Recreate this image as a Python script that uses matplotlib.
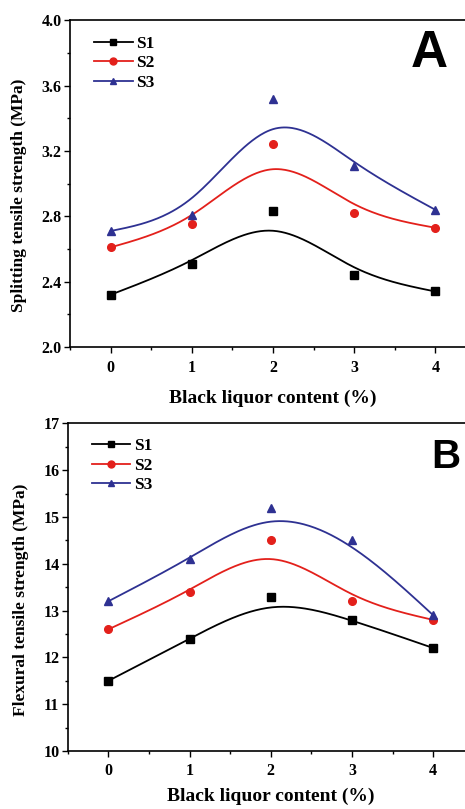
import numpy as np
import matplotlib.pyplot as plt
from matplotlib.ticker import MultipleLocator

# black liquor dosage (%)
content = [0, 1, 2, 3, 4]

# splitting tensile strength (MPa)
split_s1 = [2.32, 2.51, 2.83, 2.44, 2.34]
split_s2 = [2.61, 2.75, 3.24, 2.82, 2.73]
split_s3 = [2.71, 2.81, 3.52, 3.11, 2.84]

# flexural tensile strength (MPa)
flex_s1 = [11.5, 12.4, 13.3, 12.8, 12.2]
flex_s2 = [12.6, 13.4, 14.5, 13.2, 12.8]
flex_s3 = [13.2, 14.1, 15.2, 14.5, 12.9]

labels = ["S1", "S2", "S3"]
colors = ["black", "#e3201b", "#2e3192"]
markers = ["s", "o", "^"]

plt.rcParams["font.family"] = ["Liberation Serif", "DejaVu Serif"]
plt.rcParams["font.weight"] = "bold"


def bspline(x, y, n=60):
    """Uniform cubic B-spline using the data as control points.
    End points are mirrored so the curve starts and ends on the data."""
    p = np.column_stack([x, y]).astype(float)
    q = np.vstack([2 * p[0] - p[1], p, 2 * p[-1] - p[-2]])
    t = np.linspace(0, 1, n)[:, None]
    b0 = (1 - t) ** 3 / 6
    b1 = (3 * t ** 3 - 6 * t ** 2 + 4) / 6
    b2 = (-3 * t ** 3 + 3 * t ** 2 + 3 * t + 1) / 6
    b3 = t ** 3 / 6
    segs = [b0 * q[i] + b1 * q[i + 1] + b2 * q[i + 2] + b3 * q[i + 3]
            for i in range(len(q) - 3)]
    pts = np.vstack(segs)
    return pts[:, 0], pts[:, 1]


def draw_panel(ax, series, ylim, ymajor, yminor, ylabel, letter, letter_pos,
               letter_size, ylab_pos, leg_anchor, xlab_pad):
    for y, lab, c, m in zip(series, labels, colors, markers):
        cx, cy = bspline(content, y)
        ax.plot(cx, cy, color=c, lw=1.3)
        ax.plot(content, y, ls="none", marker=m, color=c, ms=5.5)
        ax.plot([], [], color=c, lw=1.3, marker=m, ms=5, label=lab)

    ax.set_xlim(-0.5, 4.5)
    ax.set_ylim(*ylim)
    ax.xaxis.set_major_locator(MultipleLocator(1))
    ax.xaxis.set_minor_locator(MultipleLocator(0.5))
    ax.yaxis.set_major_locator(MultipleLocator(ymajor))
    ax.yaxis.set_minor_locator(MultipleLocator(yminor))
    ax.tick_params(which="major", direction="out", length=4, width=1, labelsize=11.5)
    ax.tick_params(axis="x", which="major", pad=5)
    ax.tick_params(axis="y", which="major", pad=2)
    ax.tick_params(which="minor", direction="out", length=2.5, width=1)
    ax.tick_params(top=False, right=False)
    for sp in ax.spines.values():
        sp.set_linewidth(1.2)

    ax.set_xlabel("Black liquor content (%)", fontsize=14, fontweight="bold",
                  labelpad=xlab_pad)
    ax.set_ylabel(ylabel, fontsize=12.5, fontweight="bold")
    ax.yaxis.set_label_coords(*ylab_pos)

    ax.legend(loc="upper left", bbox_to_anchor=leg_anchor, frameon=False,
              borderpad=0, borderaxespad=0, handlelength=2.2, handletextpad=0.2,
              labelspacing=0.2, prop={"size": 12.5, "weight": "bold"})
    ax.text(*letter_pos, letter, transform=ax.transAxes, ha="center", va="center",
            fontsize=letter_size, fontweight="bold", family="Liberation Sans")


fig = plt.figure(figsize=(4.65, 8.09), dpi=100)
ax_a = fig.add_axes([0.1505, 0.571, 0.873, 0.404])
ax_b = fig.add_axes([0.146, 0.0717, 0.873, 0.405])

draw_panel(ax_a, [split_s1, split_s2, split_s3], (2.0, 4.0), 0.4, 0.2,
           "Splitting tensile strength (MPa)", "A", (0.886, 0.898), 37,
           (-0.105, 0.465), (0.06, 0.953), 10)
draw_panel(ax_b, [flex_s1, flex_s2, flex_s3], (10, 17), 1, 0.5,
           "Flexural tensile strength (MPa)", "B", (0.932, 0.898), 29,
           (-0.095, 0.46), (0.06, 0.955), 6)

fig.savefig("out.png", dpi=100)
